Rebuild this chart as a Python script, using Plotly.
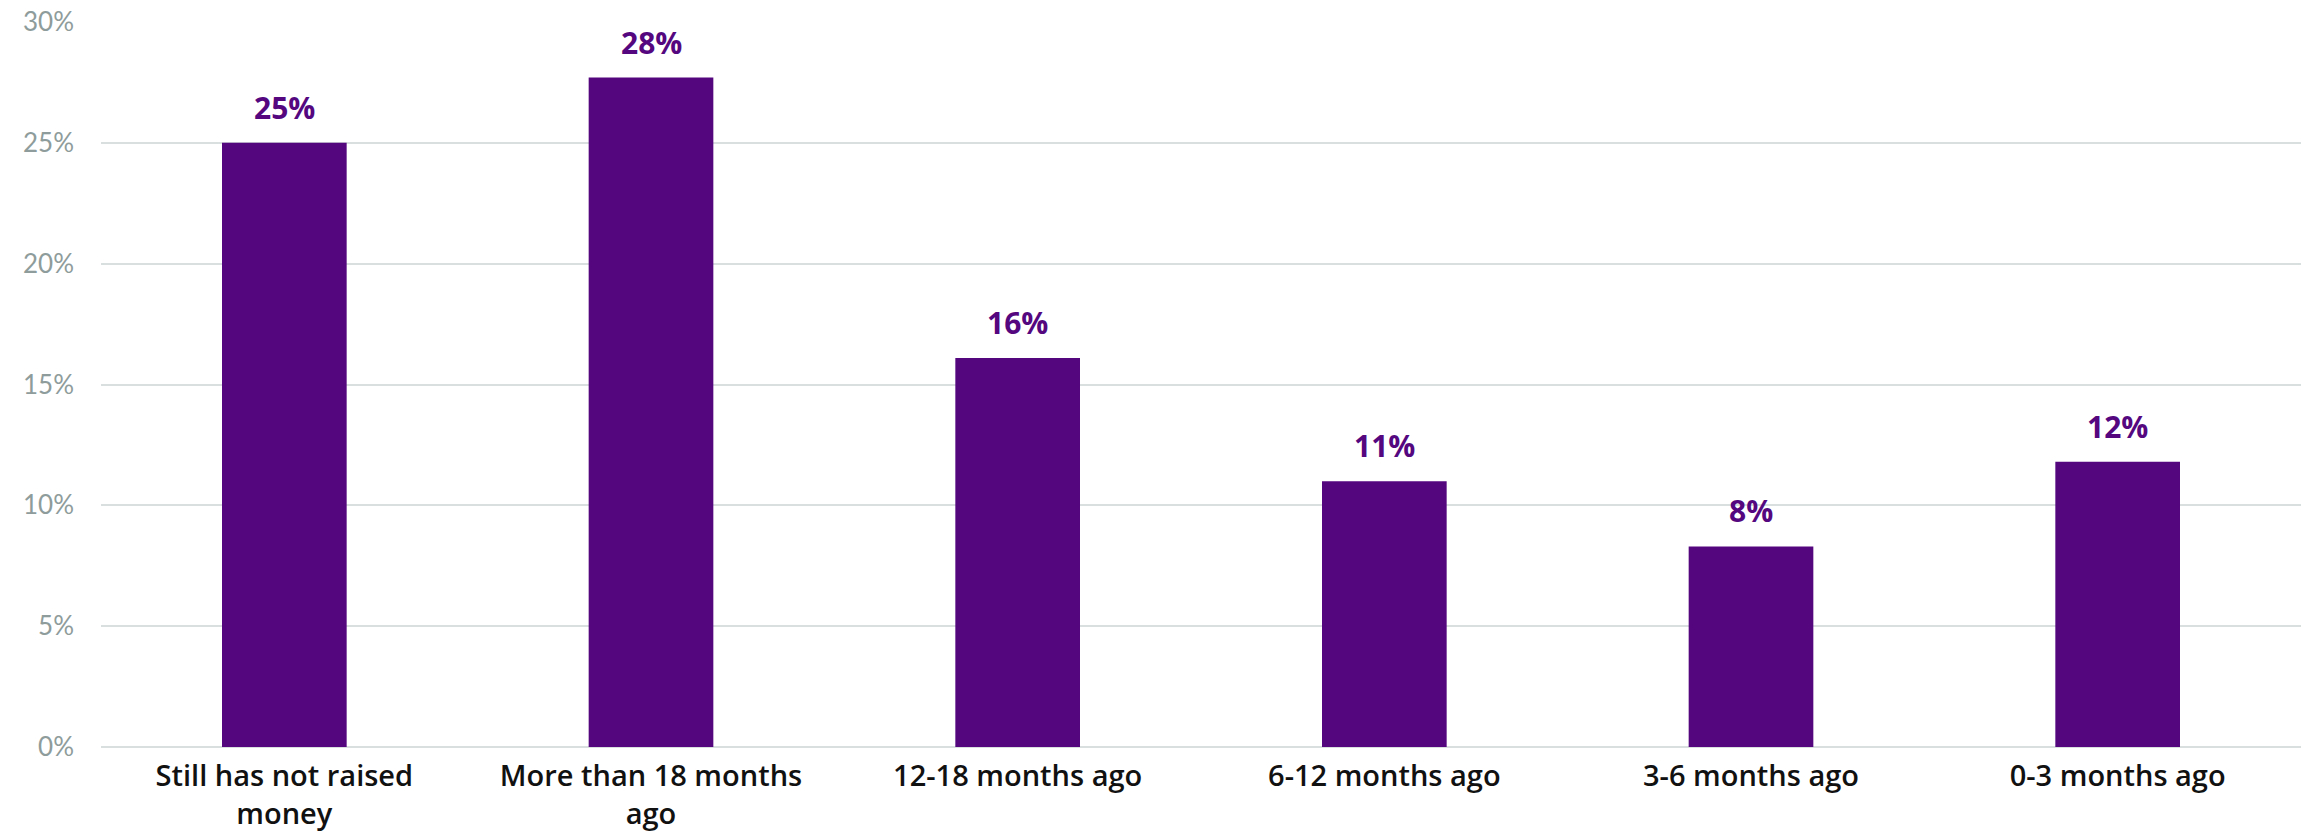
import plotly.graph_objects as go

categories = ["Still has not raised<br>money", "More than 18 months<br>ago", "12-18 months ago",
              "6-12 months ago", "3-6 months ago", "0-3 months ago"]
values = [25.0, 27.7, 16.1, 11.0, 8.3, 11.8]
labels = ["25%", "28%", "16%", "11%", "8%", "12%"]
yticks = [0, 5, 10, 15, 20, 25, 30]
yticklabels = ["0%", "5%", "10%", "15%", "20%", "25%", "30%"]

bar_color = "#54067f"
fig = go.Figure(go.Bar(x=categories, y=values, marker_color=bar_color, width=0.34,
                       marker_line_width=0, hoverinfo="skip"))

for c, v, t in zip(categories, values, labels):
    fig.add_annotation(x=c, y=v, text="<b>" + t + "</b>", showarrow=False, yanchor="bottom",
                       yshift=13, font=dict(family="Open Sans", size=30, color="#54077f"))

fig.update_layout(
    width=2308, height=835, margin=dict(l=101, r=7, t=22, b=88),
    plot_bgcolor="white", paper_bgcolor="white", showlegend=False,
    bargap=0.66,
)
fig.update_xaxes(showgrid=False, showline=False, ticks="", ticklabelstandoff=9, automargin=False,
                 tickfont=dict(family="Open Sans", size=29, color="#111111", weight=600))
fig.update_yaxes(range=[0, 30], tickvals=yticks, ticktext=yticklabels, showgrid=True, automargin=False,
                 gridcolor="#d9dede", gridwidth=2, zeroline=True, zerolinecolor="#d9dede",
                 zerolinewidth=2, showline=False, ticks="", ticklabelstandoff=26,
                 tickfont=dict(family="Lato", size=26, color="#8e9c9b"))

fig.write_html("out.html")
